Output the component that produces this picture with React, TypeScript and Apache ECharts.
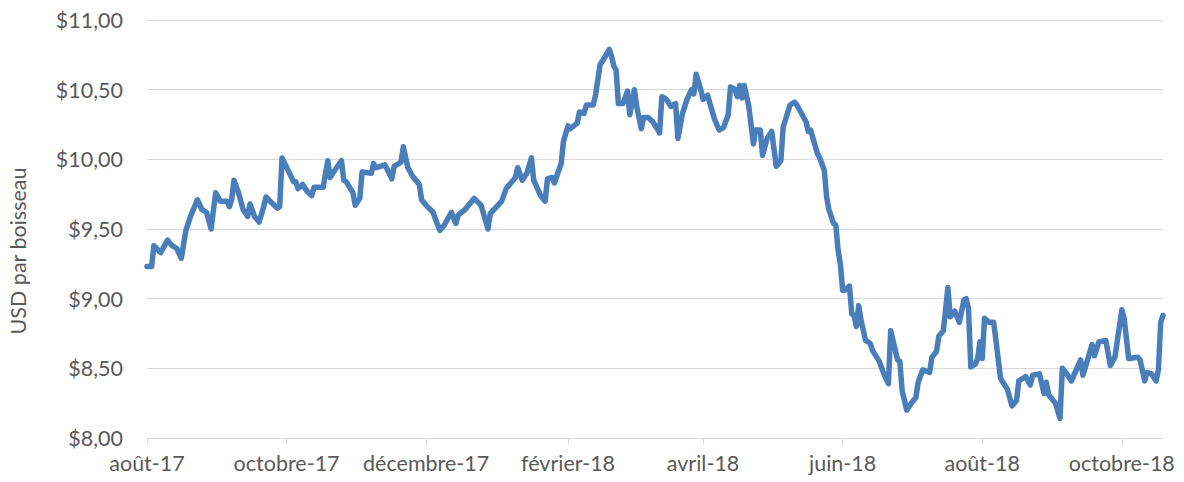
import React, { useEffect, useRef } from "react";
import * as echarts from "echarts";

// Soybean price, USD per bushel
const priceDates: string[] = [
  "2017-08-01","2017-08-03","2017-08-04","2017-08-07","2017-08-10","2017-08-12","2017-08-14","2017-08-16","2017-08-18","2017-08-20",
  "2017-08-23","2017-08-25","2017-08-27","2017-08-29","2017-08-31","2017-09-02","2017-09-05","2017-09-06","2017-09-07","2017-09-08",
  "2017-09-10","2017-09-12","2017-09-14","2017-09-15","2017-09-17","2017-09-19","2017-09-21","2017-09-22","2017-09-25","2017-09-27",
  "2017-09-28","2017-09-29","2017-10-02","2017-10-04","2017-10-05","2017-10-06","2017-10-08","2017-10-10","2017-10-12","2017-10-13",
  "2017-10-15","2017-10-17","2017-10-19","2017-10-20","2017-10-22","2017-10-25","2017-10-26","2017-10-27","2017-10-30","2017-10-31",
  "2017-11-02","2017-11-03","2017-11-07","2017-11-08","2017-11-09","2017-11-11","2017-11-13","2017-11-16","2017-11-17","2017-11-20",
  "2017-11-21","2017-11-23","2017-11-25","2017-11-28","2017-11-29","2017-12-01","2017-12-04","2017-12-06","2017-12-07","2017-12-09",
  "2017-12-12","2017-12-14","2017-12-15","2017-12-18","2017-12-22","2017-12-25","2017-12-28","2017-12-29","2018-01-03","2018-01-05",
  "2018-01-09","2018-01-10","2018-01-12","2018-01-14","2018-01-16","2018-01-17","2018-01-20","2018-01-22","2018-01-23","2018-01-25",
  "2018-01-26","2018-01-29","2018-01-30","2018-02-01","2018-02-02","2018-02-05","2018-02-06","2018-02-08","2018-02-09","2018-02-12",
  "2018-02-13","2018-02-15","2018-02-17","2018-02-19","2018-02-20","2018-02-21","2018-02-22","2018-02-23","2018-02-25","2018-02-27",
  "2018-02-28","2018-03-02","2018-03-03","2018-03-05","2018-03-06","2018-03-08","2018-03-10","2018-03-12","2018-03-13","2018-03-14",
  "2018-03-16","2018-03-18","2018-03-20","2018-03-21","2018-03-23","2018-03-25","2018-03-27","2018-03-28","2018-03-29","2018-03-31",
  "2018-04-01","2018-04-03","2018-04-04","2018-04-06","2018-04-08","2018-04-10","2018-04-12","2018-04-13","2018-04-15","2018-04-16",
  "2018-04-17","2018-04-18","2018-04-19","2018-04-21","2018-04-23","2018-04-24","2018-04-26","2018-04-27","2018-04-29","2018-05-01",
  "2018-05-03","2018-05-05","2018-05-06","2018-05-09","2018-05-11","2018-05-12","2018-05-16","2018-05-17","2018-05-18","2018-05-21",
  "2018-05-22","2018-05-24","2018-05-25","2018-05-26","2018-05-28","2018-05-29","2018-05-30","2018-05-31","2018-06-01","2018-06-02",
  "2018-06-04","2018-06-05","2018-06-06","2018-06-07","2018-06-08","2018-06-09","2018-06-11","2018-06-13","2018-06-14","2018-06-17",
  "2018-06-19","2018-06-21","2018-06-22","2018-06-23","2018-06-25","2018-06-26","2018-06-27","2018-06-29","2018-07-01","2018-07-03",
  "2018-07-04","2018-07-06","2018-07-09","2018-07-10","2018-07-12","2018-07-13","2018-07-15","2018-07-17","2018-07-18","2018-07-20",
  "2018-07-22","2018-07-24","2018-07-25","2018-07-26","2018-07-27","2018-07-29","2018-07-30","2018-07-31","2018-08-01","2018-08-02",
  "2018-08-04","2018-08-06","2018-08-07","2018-08-09","2018-08-10","2018-08-12","2018-08-14","2018-08-16","2018-08-17","2018-08-20",
  "2018-08-22","2018-08-23","2018-08-26","2018-08-28","2018-08-29","2018-08-30","2018-09-02","2018-09-04","2018-09-05","2018-09-07",
  "2018-09-09","2018-09-13","2018-09-14","2018-09-18","2018-09-19","2018-09-21","2018-09-24","2018-09-26","2018-09-28","2018-10-01",
  "2018-10-02","2018-10-04","2018-10-08","2018-10-09","2018-10-11","2018-10-12","2018-10-14","2018-10-16","2018-10-17","2018-10-18",
  "2018-10-19",
];

const priceValues: number[] = [
  9.23, 9.23, 9.38, 9.33, 9.42, 9.38, 9.36, 9.29, 9.49, 9.59,
  9.71, 9.64, 9.62, 9.50, 9.76, 9.70, 9.70, 9.66, 9.71, 9.85,
  9.76, 9.64, 9.59, 9.68, 9.59, 9.55, 9.66, 9.73, 9.68, 9.65,
  9.66, 10.01, 9.91, 9.84, 9.84, 9.79, 9.82, 9.77, 9.74, 9.80,
  9.80, 9.80, 9.99, 9.87, 9.92, 9.99, 9.85, 9.84, 9.76, 9.67,
  9.72, 9.91, 9.90, 9.97, 9.94, 9.95, 9.96, 9.86, 9.95, 9.98,
  10.09, 9.94, 9.88, 9.82, 9.71, 9.67, 9.62, 9.53, 9.49, 9.53,
  9.62, 9.54, 9.60, 9.64, 9.72, 9.67, 9.50, 9.61, 9.70, 9.79,
  9.87, 9.94, 9.85, 9.90, 10.01, 9.85, 9.74, 9.70, 9.86, 9.87,
  9.83, 9.97, 10.13, 10.24, 10.22, 10.26, 10.34, 10.33, 10.39, 10.39,
  10.46, 10.68, 10.73, 10.79, 10.74, 10.67, 10.64, 10.40, 10.40, 10.49,
  10.32, 10.50, 10.38, 10.22, 10.30, 10.30, 10.27, 10.22, 10.19, 10.45,
  10.43, 10.38, 10.40, 10.15, 10.33, 10.43, 10.50, 10.47, 10.61, 10.50,
  10.43, 10.46, 10.40, 10.29, 10.21, 10.23, 10.32, 10.52, 10.50, 10.45,
  10.53, 10.44, 10.53, 10.38, 10.11, 10.21, 10.21, 10.03, 10.15, 10.20,
  9.95, 9.99, 10.23, 10.39, 10.41, 10.39, 10.27, 10.20, 10.21, 10.04,
  10.01, 9.92, 9.73, 9.64, 9.54, 9.53, 9.35, 9.25, 9.06, 9.06,
  9.09, 8.89, 8.88, 8.80, 8.95, 8.85, 8.70, 8.68, 8.63, 8.55,
  8.46, 8.39, 8.77, 8.70, 8.56, 8.55, 8.34, 8.20, 8.25, 8.29,
  8.40, 8.49, 8.47, 8.58, 8.62, 8.73, 8.77, 9.08, 8.87, 8.91,
  8.83, 8.99, 9.00, 8.93, 8.51, 8.53, 8.57, 8.69, 8.57, 8.86,
  8.83, 8.83, 8.70, 8.43, 8.40, 8.35, 8.23, 8.27, 8.41, 8.44,
  8.38, 8.45, 8.46, 8.32, 8.40, 8.31, 8.25, 8.14, 8.50, 8.46,
  8.41, 8.56, 8.45, 8.67, 8.59, 8.69, 8.70, 8.52, 8.58, 8.92,
  8.86, 8.57, 8.58, 8.56, 8.41, 8.47, 8.46, 8.41, 8.49, 8.83,
  8.88,
];

const xStart = "2017-08-01";
const xEnd = "2018-10-19";
const xTickDates: string[] = [
  "2017-08-01", "2017-10-01", "2017-12-01", "2018-02-01",
  "2018-04-01", "2018-06-01", "2018-08-01", "2018-10-01",
];
const xTickLabels: string[] = [
  "août-17", "octobre-17", "décembre-17", "février-18",
  "avril-18", "juin-18", "août-18", "octobre-18",
];
const yMin = 8;
const yMax = 11;
const yStep = 0.5;
const yAxisTitle = "USD par boisseau";

const toTime = (s: string) => {
  const [y, m, d] = s.split("-").map(Number);
  return Date.UTC(y, m - 1, d);
};

export default function App() {
  const ref = useRef<HTMLDivElement>(null);

  useEffect(() => {
    if (!ref.current) return;
    const chart = echarts.init(ref.current, undefined, { renderer: "svg" });
    const tickTimes = xTickDates.map(toTime);
    const font = "Lato, 'Open Sans', sans-serif";
    const textColor = "#595959";
    const gridColor = "#d9d9d9";
    const fontSize = 21.5;

    chart.setOption({
      animation: false,
      backgroundColor: "#ffffff",
      grid: { left: 147, right: 21, top: 20, bottom: 44, containLabel: false },
      xAxis: {
        type: "value",
        min: toTime(xStart),
        max: toTime(xEnd),
        axisLine: { show: true, lineStyle: { color: gridColor, width: 1 } },
        axisTick: {
          show: true,
          length: 6,
          customValues: tickTimes,
          lineStyle: { color: gridColor, width: 1 },
        },
        axisLabel: {
          show: true,
          customValues: tickTimes,
          margin: 14,
          color: textColor,
          fontFamily: font,
          fontSize,
          showMinLabel: true,
          showMaxLabel: true,
          formatter: (v: number) => {
            const i = tickTimes.indexOf(v);
            return i >= 0 ? xTickLabels[i] : "";
          },
        },
        splitLine: { show: false },
      },
      yAxis: {
        type: "value",
        min: yMin,
        max: yMax,
        interval: yStep,
        axisLine: { show: false },
        axisTick: { show: false },
        axisLabel: {
          margin: 24,
          color: textColor,
          fontFamily: font,
          fontSize,
          formatter: (v: number) => "$" + v.toFixed(2).replace(".", ","),
        },
        splitLine: { show: true, lineStyle: { color: gridColor, width: 1 } },
      },
      graphic: [
        {
          type: "text",
          x: 18,
          y: 251,
          rotation: Math.PI / 2,
          style: {
            text: yAxisTitle,
            fill: textColor,
            font: `${fontSize}px ${font}`,
            align: "center",
            verticalAlign: "middle",
          },
        },
      ],
      series: [
        {
          type: "line",
          data: priceDates.map((d, i) => [toTime(d), priceValues[i]]),
          showSymbol: false,
          symbol: "none",
          lineStyle: { color: "#4a7ebb", width: 5.5, cap: "round", join: "round" },
          itemStyle: { color: "#4a7ebb" },
          clip: false,
        },
      ],
    });

    return () => chart.dispose();
  }, []);

  return (
    <div
      ref={ref}
      style={{ position: "fixed", left: 0, top: 0, width: 1184, height: 482, background: "#fff" }}
    />
  );
}
